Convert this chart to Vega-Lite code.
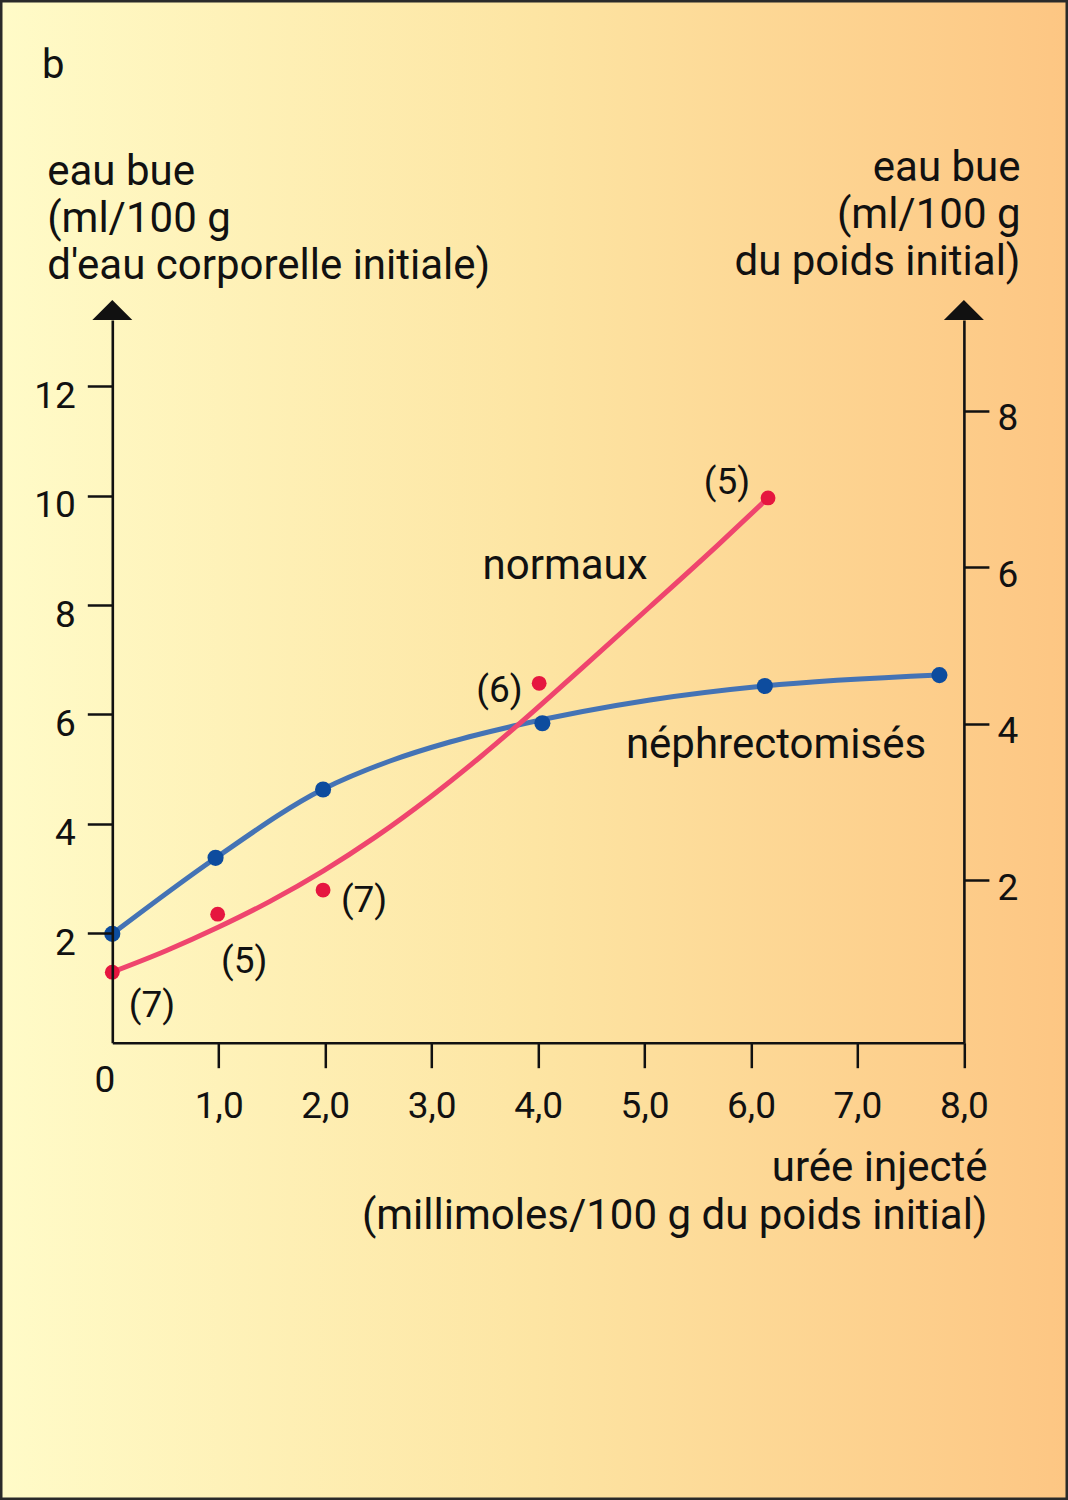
{
  "$schema": "https://vega.github.io/schema/vega-lite/v6.json",
  "width": 851.6,
  "height": 722.7,
  "autosize": {"type": "none"},
  "padding": {"left": 112.3, "top": 320, "right": 104.1, "bottom": 457.3},
  "background": "#FDE4A4",
  "config": {
    "view": {"stroke": null},
    "font": "Roboto",
    "axis": {"grid": false, "domain": true, "domainColor": "#111", "domainWidth": 2.6, "tickColor": "#111", "tickWidth": 2.5, "tickSize": 25, "labelColor": "#111", "labelFont": "Roboto", "labelFontSize": 37, "titleFont": "Roboto", "titleFontSize": 42, "titleFontWeight": "normal", "titleColor": "#111", "labelFlush": false, "labelOverlap": false}
  },
  "title": {"text": "b", "anchor": "start", "frame": "group", "orient": "top", "offset": 0, "dx": -70.3, "dy": 121, "baseline": "alphabetic", "font": "Roboto", "fontSize": 40, "fontWeight": "normal", "color": "#111"},
  "datasets": {
    "points": [
      {"serie": "néphrectomisés", "uree": 0.0, "eau": 1.99},
      {"serie": "néphrectomisés", "uree": 0.97, "eau": 3.38},
      {"serie": "néphrectomisés", "uree": 1.98, "eau": 4.63},
      {"serie": "néphrectomisés", "uree": 4.04, "eau": 5.84},
      {"serie": "néphrectomisés", "uree": 6.13, "eau": 6.52},
      {"serie": "néphrectomisés", "uree": 7.77, "eau": 6.72},
      {"serie": "normaux", "uree": 0.0, "eau": 1.29},
      {"serie": "normaux", "uree": 0.99, "eau": 2.35},
      {"serie": "normaux", "uree": 1.98, "eau": 2.79},
      {"serie": "normaux", "uree": 4.01, "eau": 6.57},
      {"serie": "normaux", "uree": 6.16, "eau": 9.96}
    ],
    "courbes": [
      {"serie": "néphrectomisés", "uree": 0.0, "eau": 1.99},
      {"serie": "néphrectomisés", "uree": 0.974, "eau": 3.382},
      {"serie": "néphrectomisés", "uree": 1.979, "eau": 4.633},
      {"serie": "néphrectomisés", "uree": 2.609, "eau": 5.15},
      {"serie": "néphrectomisés", "uree": 3.172, "eau": 5.497},
      {"serie": "néphrectomisés", "uree": 3.811, "eau": 5.808},
      {"serie": "néphrectomisés", "uree": 5.051, "eau": 6.265},
      {"serie": "néphrectomisés", "uree": 6.122, "eau": 6.521},
      {"serie": "néphrectomisés", "uree": 7.766, "eau": 6.722},
      {"serie": "normaux", "uree": 0.0, "eau": 1.29},
      {"serie": "normaux", "uree": 0.505, "eau": 1.68},
      {"serie": "normaux", "uree": 0.984, "eau": 2.1},
      {"serie": "normaux", "uree": 1.481, "eau": 2.584},
      {"serie": "normaux", "uree": 1.979, "eau": 3.137},
      {"serie": "normaux", "uree": 2.477, "eau": 3.767},
      {"serie": "normaux", "uree": 2.985, "eau": 4.488},
      {"serie": "normaux", "uree": 3.454, "eau": 5.219},
      {"serie": "normaux", "uree": 3.811, "eau": 5.81},
      {"serie": "normaux", "uree": 4.422, "eau": 6.868},
      {"serie": "normaux", "uree": 5.051, "eau": 7.97},
      {"serie": "normaux", "uree": 5.681, "eau": 9.084},
      {"serie": "normaux", "uree": 6.16, "eau": 9.958}
    ],
    "effectifs": [
      {"uree": 0.373, "eau": 0.671, "texte": "(7)"},
      {"uree": 1.239, "eau": 1.475, "texte": "(5)"},
      {"uree": 2.365, "eau": 2.59, "texte": "(7)"},
      {"uree": 3.637, "eau": 6.43, "texte": "(6)"},
      {"uree": 5.774, "eau": 10.232, "texte": "(5)"}
    ],
    "legendes": [
      {"uree": 4.253, "eau": 8.477, "texte": "normaux"},
      {"uree": 6.235, "eau": 5.205, "texte": "néphrectomisés"}
    ],
    "origine": [
      {"uree": -0.069, "eau": -0.896, "texte": "0"}
    ],
    "flecheGauche": [{"uree": 0, "eau": 13.212}],
    "flecheDroite": [{"uree": 8, "eau": 13.212}]
  },
  "layer": [
    {
      "data": {"values": [{}]},
      "mark": {"type": "rect", "clip": false, "fill": {"gradient": "linear", "x1": 0, "y1": 0, "x2": 1, "y2": 0, "stops": [{"offset": 0, "color": "#FFFBC8"}, {"offset": 0.5, "color": "#FDE5A3"}, {"offset": 1, "color": "#FDC683"}]}},
      "encoding": {
        "x": {"datum": -1.05496, "type": "quantitative", "scale": {"domain": [0, 8], "nice": false, "zero": false}, "axis": null},
        "x2": {"datum": 8.97792},
        "y": {"datum": -8.3601, "type": "quantitative", "scale": {"domain": [0, 13.212], "nice": false, "zero": false}, "axis": null},
        "y2": {"datum": 19.0621}
      }
    },
    {
      "data": {"name": "courbes"},
      "mark": {"type": "line", "interpolate": "monotone", "strokeWidth": 5, "strokeCap": "round"},
      "encoding": {
        "x": {"field": "uree", "type": "quantitative", "scale": {"domain": [0, 8], "nice": false, "zero": false}, "axis": null},
        "y": {"field": "eau", "type": "quantitative", "scale": {"domain": [0, 13.212], "nice": false, "zero": false}, "axis": null},
        "color": {"field": "serie", "type": "nominal", "scale": {"domain": ["normaux", "néphrectomisés"], "range": ["#EF456E", "#4473B5"]}, "legend": null}
      }
    },
    {
      "data": {"name": "points"},
      "mark": {"type": "point", "filled": true, "opacity": 1},
      "encoding": {
        "x": {"field": "uree", "type": "quantitative", "scale": {"domain": [0, 8], "nice": false, "zero": false}, "axis": null},
        "y": {"field": "eau", "type": "quantitative", "scale": {"domain": [0, 13.212], "nice": false, "zero": false}, "axis": null},
        "fill": {"field": "serie", "type": "nominal", "scale": {"domain": ["normaux", "néphrectomisés"], "range": ["#E6163F", "#0D4C9E"]}, "legend": null},
        "size": {"field": "serie", "type": "nominal", "scale": {"domain": ["normaux", "néphrectomisés"], "range": [220, 260]}, "legend": null}
      }
    },
    {
      "data": {"name": "effectifs"},
      "mark": {"type": "text", "fontSize": 37, "baseline": "middle", "align": "center", "color": "#111"},
      "encoding": {
        "x": {"field": "uree", "type": "quantitative", "scale": {"domain": [0, 8], "nice": false, "zero": false}, "axis": null},
        "y": {"field": "eau", "type": "quantitative", "scale": {"domain": [0, 13.212], "nice": false, "zero": false}, "axis": null},
        "text": {"field": "texte"}
      }
    },
    {
      "data": {"name": "legendes"},
      "mark": {"type": "text", "fontSize": 42, "baseline": "alphabetic", "align": "center", "color": "#111"},
      "encoding": {
        "x": {"field": "uree", "type": "quantitative", "scale": {"domain": [0, 8], "nice": false, "zero": false}, "axis": null},
        "y": {"field": "eau", "type": "quantitative", "scale": {"domain": [0, 13.212], "nice": false, "zero": false}, "axis": null},
        "text": {"field": "texte"}
      }
    },
    {
      "data": {"name": "origine"},
      "mark": {"type": "text", "fontSize": 37, "baseline": "alphabetic", "align": "center", "color": "#111", "clip": false},
      "encoding": {
        "x": {"field": "uree", "type": "quantitative", "scale": {"domain": [0, 8], "nice": false, "zero": false}, "axis": null},
        "y": {"field": "eau", "type": "quantitative", "scale": {"domain": [0, 13.212], "nice": false, "zero": false}, "axis": null},
        "text": {"field": "texte"}
      }
    },
    {
      "data": {"name": "flecheGauche"},
      "mark": {"type": "point", "shape": "M-1,0L1,0L0,-1Z", "filled": true, "color": "#111", "opacity": 1, "size": 1600},
      "encoding": {
        "x": {"field": "uree", "type": "quantitative", "scale": {"domain": [0, 8], "nice": false, "zero": false},
          "axis": {"orient": "bottom", "zindex": 2, "values": [1, 2, 3, 4, 5, 6, 7, 8], "labelExpr": "replace(format(datum.value, '.1f'), '.', ',')", "labelBaseline": "alphabetic", "labelPadding": 49.3, "labelAlign": "center", "title": ["urée injecté", "(millimoles/100 g du poids initial)"], "titleAlign": "right", "titleX": 874.7, "titleY": 137.3, "titleBaseline": "alphabetic", "titleLineHeight": 48}},
        "y": {"field": "eau", "type": "quantitative", "scale": {"domain": [0, 13.212], "nice": false, "zero": false},
          "axis": {"orient": "left", "zindex": 2, "values": [2, 4, 6, 8, 10, 12], "labelBaseline": "middle", "labelOffset": 10, "labelPadding": 12, "title": ["eau bue", "(ml/100 g", "d'eau corporelle initiale)"], "titleAngle": 0, "titleAlign": "left", "titleBaseline": "alphabetic", "titleX": -65.6, "titleY": -136, "titleLineHeight": 47}}
      }
    },
    {
      "data": {"name": "flecheDroite"},
      "mark": {"type": "point", "shape": "M-1,0L1,0L0,-1Z", "filled": true, "color": "#111", "opacity": 1, "size": 1600},
      "encoding": {
        "x": {"field": "uree", "type": "quantitative", "scale": {"domain": [0, 8], "nice": false, "zero": false}, "axis": null},
        "y": {"field": "eau", "type": "quantitative", "scale": {"domain": [0, 13.212], "nice": false, "zero": false},
          "axis": {"orient": "right", "zindex": 2, "values": [2.967, 5.83, 8.693, 11.556], "labelExpr": "format(round((datum.value * 54.7 - 5.7) / 78.3), 'd')", "labelBaseline": "middle", "labelOffset": 8, "labelPadding": 8, "title": ["eau bue", "(ml/100 g", "du poids initial)"], "titleAngle": 0, "titleAlign": "right", "titleBaseline": "alphabetic", "titleX": 56.1, "titleY": -140, "titleLineHeight": 47}}
      }
    },
    {
      "data": {"values": [{}]},
      "mark": {"type": "rect", "clip": false, "fill": null, "stroke": "#2a2a2a", "strokeWidth": 5},
      "encoding": {
        "x": {"datum": -1.05496, "type": "quantitative", "scale": {"domain": [0, 8], "nice": false, "zero": false}, "axis": null},
        "x2": {"datum": 8.97792},
        "y": {"datum": -8.3601, "type": "quantitative", "scale": {"domain": [0, 13.212], "nice": false, "zero": false}, "axis": null},
        "y2": {"datum": 19.0621}
      }
    }
  ],
  "resolve": {"axis": {"x": "independent", "y": "independent"}}
}
